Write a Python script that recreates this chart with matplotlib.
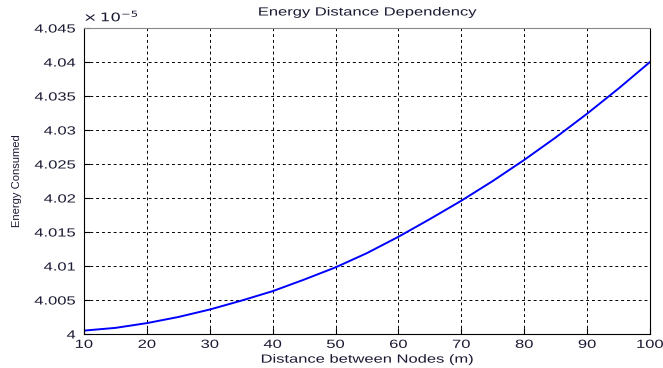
import matplotlib
matplotlib.use("Agg")
import matplotlib.pyplot as plt
from matplotlib import patheffects
from matplotlib.ticker import FuncFormatter
from matplotlib.transforms import Affine2D

plt.rcParams['font.family'] = ['Liberation Sans', 'DejaVu Sans']

# (energia w jednostkach 1e-5)
distance = [10, 15, 20, 25, 30, 35, 40, 45, 50, 55, 60, 65, 70, 75, 80, 85, 90, 95, 100]
energy = [4.0005, 4.0009, 4.0016, 4.0025, 4.0036, 4.0049, 4.0063, 4.0080, 4.0098, 4.0119,
          4.0143, 4.0169, 4.0196, 4.0225, 4.0256, 4.0289, 4.0324, 4.0361, 4.0400]
energy = [e * 1e-5 for e in energy]


# oryginalny obrazek jest rozciagniety w poziomie - rozciagamy napisy tak samo
class Stretch(patheffects.AbstractPathEffect):
    def __init__(self, sx=1.4, anchor='center'):
        super().__init__()
        self.sx = sx
        self.anchor = anchor

    def draw_path(self, renderer, gc, tpath, affine, rgbFace=None):
        ext = tpath.get_extents()
        x0 = {'left': ext.x0, 'center': (ext.x0 + ext.x1) / 2, 'right': ext.x1}[self.anchor]
        t = Affine2D().translate(-x0, 0).scale(self.sx, 1).translate(x0, 0) + affine
        renderer.draw_path(gc, tpath, t, rgbFace)


txt_col = '#1a1a33'
fs = 8.5

fig = plt.figure(figsize=(6.63, 3.68), dpi=100)
ax = fig.add_axes([84 / 663, 34 / 368, 566 / 663, 306 / 368])

ax.plot(distance, energy, color='#0000ff', lw=1.4)

ax.set_xlim(10, 100)
ax.set_ylim(4.0e-5, 4.045e-5)
ax.set_xticks(range(10, 101, 10))
ax.set_yticks([(4 + 0.005 * i) * 1e-5 for i in range(10)])
ax.yaxis.set_major_formatter(FuncFormatter(lambda v, p: '%g' % round(v / 1e-5, 4)))

ax.grid(True, color='black', linestyle=(0, (3, 3)), lw=0.7)
ax.tick_params(direction='in', labelsize=fs, length=4, colors='black', labelcolor=txt_col)
ax.tick_params(axis='y', pad=6)
for s in ['left', 'bottom', 'right']:
    ax.spines[s].set_color('black')
ax.spines['top'].set_color('#888888')

for lab in ax.get_xticklabels():
    lab.set_path_effects([Stretch(anchor='center')])
for lab in ax.get_yticklabels():
    lab.set_path_effects([Stretch(anchor='right')])

ax.text(0.0, 1.012, r'$\times\,10^{-5}$', transform=ax.transAxes, fontsize=fs,
        ha='left', va='bottom', color=txt_col, path_effects=[Stretch(anchor='left')])
ax.set_title('Energy Distance Dependency', fontsize=fs, pad=9, color=txt_col,
             path_effects=[Stretch()])
ax.set_xlabel('Distance between Nodes (m)', fontsize=fs, labelpad=2, color=txt_col,
              path_effects=[Stretch()])
ax.set_ylabel('Energy Consumed', fontsize=8, labelpad=17, color=txt_col)

fig.savefig('out.png', dpi=100)
